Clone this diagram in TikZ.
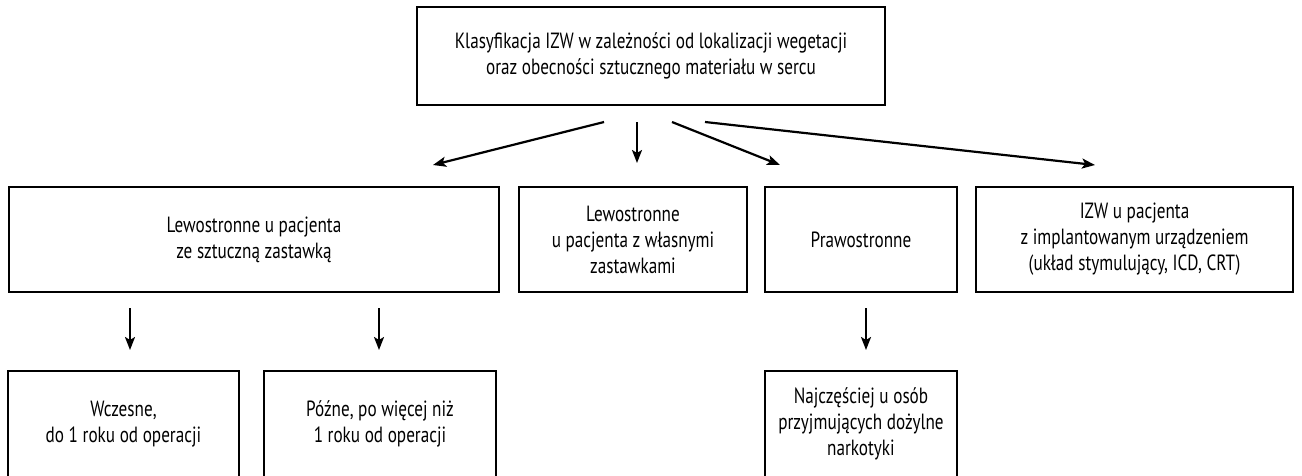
\documentclass[tikz,border=0pt]{standalone}
\usepackage{fontspec}
\setmainfont{PT Sans}[FakeStretch=0.78]
\usetikzlibrary{arrows.meta}
\begin{document}
\begin{tikzpicture}[x=1pt,y=-1pt,
  box/.style={draw=black,line width=1.4pt,align=center,inner sep=0pt,
    font=\fontsize{22}{26}\selectfont},
  arr/.style={line width=2.2pt,-{Stealth[length=13pt,width=10pt,inset=3pt]}}]
\useasboundingbox (0,0) rectangle (1302,475);

% root of the classification
\node[box,minimum width=468pt,minimum height=98pt] (root) at (651,56)
  {Klasyfikacja IZW w zależności od lokalizacji wegetacji\\oraz obecności sztucznego materiału w sercu};

% second level
\node[box,minimum width=490pt,minimum height=105pt] (prost) at (254,239.5)
  {Lewostronne u pacjenta\\ze sztuczną zastawką};
\node[box,minimum width=228pt,minimum height=105pt] (wlasne) at (633,239.5)
  {Lewostronne\\u pacjenta z własnymi\\zastawkami};
\node[box,minimum width=192pt,minimum height=105pt] (prawo) at (861,239.5)
  {Prawostronne};
\node[box,minimum width=317pt,minimum height=105pt] (urz) at (1134.5,239.5)
  {IZW u pacjenta\\z implantowanym urządzeniem\\(układ stymulujący, ICD, CRT)};

% third level
\node[box,minimum width=231pt,minimum height=106pt] (wczesne) at (123.5,424)
  {Wczesne,\\do 1 roku od operacji};
\node[box,minimum width=232pt,minimum height=106pt] (pozne) at (380,424)
  {Późne, po więcej niż\\1 roku od operacji};
\node[box,minimum width=192pt,minimum height=106pt] (narko) at (861,424)
  {Najczęściej u osób\\przyjmujących dożylne\\narkotyki};

% arrow ends
\coordinate (r1) at (604,122);
\coordinate (r2) at (637,122);
\coordinate (r3) at (672,122);
\coordinate (r4) at (705,122);
\coordinate (e1) at (433,165);
\coordinate (e2) at (637,163);
\coordinate (e3) at (780,165);
\coordinate (e4) at (1095,165);
\draw[arr] (r1) -- (e1);
\draw[arr] (r2) -- (e2);
\draw[arr] (r3) -- (e3);
\draw[arr] (r4) -- (e4);

\coordinate (a1) at (130,308);
\coordinate (b1) at (130,350);
\coordinate (a2) at (379,308);
\coordinate (b2) at (379,350);
\coordinate (a3) at (866,308);
\coordinate (b3) at (866,350);
\draw[arr] (a1) -- (b1);
\draw[arr] (a2) -- (b2);
\draw[arr] (a3) -- (b3);
\end{tikzpicture}
\end{document}
